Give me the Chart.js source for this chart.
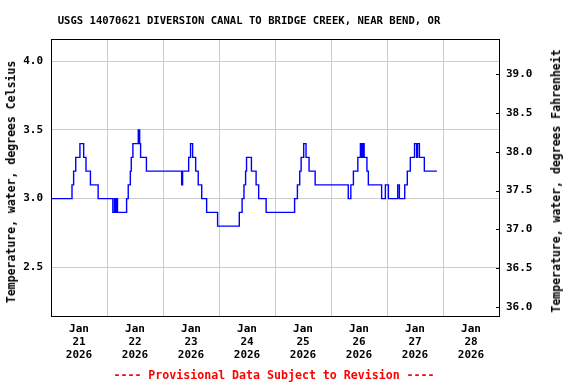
<!DOCTYPE html>
<html>
<head>
<meta charset="utf-8">
<script src="https://cdn.jsdelivr.net/npm/chart.js@4.4.1/dist/chart.umd.min.js"></script>
<style>
html, body { margin: 0; padding: 0; background: #fff; }
#wrap { position: relative; width: 576px; height: 384px; overflow: hidden; }
#wrap canvas { position: absolute; left: 0; top: 0; }
.txt { position: absolute; font-family: "DejaVu Sans Mono", monospace; font-weight: bold; white-space: nowrap; color: #000; transform: translate(-50%, -50%); }
.rot { transform: translate(-50%, -50%) rotate(-90deg); }
</style>
</head>
<body>
<div id="wrap">
  <canvas id="chart" width="576" height="384"></canvas>
  <div class="txt" style="left:249px; top:20px; font-size:10.6px;">USGS 14070621 DIVERSION CANAL TO BRIDGE CREEK, NEAR BEND, OR</div>
  <div class="txt rot" style="left:11px; top:182px; font-size:11.5px;">Temperature, water, degrees Celsius</div>
  <div class="txt rot" style="left:556px; top:181px; font-size:11.5px;">Temperature, water, degrees Fahrenheit</div>
  <div class="txt" style="left:274px; top:375px; font-size:11.6px; color:#ff0000;">---- Provisional Data Subject to Revision ----</div>
</div>
<script>
// heures depuis le 21 janv. 00:00, et température (°C) à partir de cet instant
const hours = [
  0, 9.0, 9.7, 10.6, 12.4, 14.0, 15.0, 16.9, 20.2,
  26.5, 27.2, 27.5, 28.0, 28.5, 32.4, 33.1, 34.0, 34.4, 35.1, 37.4, 38.0, 38.4, 40.9,
  56.0, 56.4, 59.0, 59.8, 60.7, 62.0, 63.1, 64.6, 66.7, 71.4,
  80.7, 81.9, 82.7, 83.4, 83.8, 85.9, 87.9, 89.0, 92.2,
  104.4, 105.6, 106.6, 107.2, 108.3, 109.3, 110.6, 113.2,
  127.4, 128.5, 129.6, 131.5, 132.6, 133.1, 133.6, 134.2, 135.4, 136.0, 141.7,
  143.3, 144.6, 148.6, 149.3, 151.6, 152.7, 154.0, 155.8, 156.7, 157.1, 157.9, 160.0, 165.4
];
const tempC = [
  3.0, 3.1, 3.2, 3.3, 3.4, 3.3, 3.2, 3.1, 3.0,
  2.9, 3.0, 2.9, 3.0, 2.9, 3.0, 3.1, 3.2, 3.3, 3.4, 3.5, 3.4, 3.3, 3.2,
  3.1, 3.2, 3.3, 3.4, 3.3, 3.2, 3.1, 3.0, 2.9, 2.8,
  2.9, 3.0, 3.1, 3.2, 3.3, 3.2, 3.1, 3.0, 2.9,
  3.0, 3.1, 3.2, 3.3, 3.4, 3.3, 3.2, 3.1,
  3.0, 3.1, 3.2, 3.3, 3.4, 3.3, 3.4, 3.3, 3.2, 3.1, 3.0,
  3.1, 3.0, 3.1, 3.0, 3.1, 3.2, 3.3, 3.4, 3.3, 3.4, 3.3, 3.2, 3.2
];

const celsiusTicks = [2.5, 3.0, 3.5, 4.0];
const fahrenheitTicks = [36.0, 36.5, 37.0, 37.5, 38.0, 38.5, 39.0];
const dayTicks = [0, 24, 48, 72, 96, 120, 144, 168, 192];
const dayLabels = [
  ['Jan', '21', '2026'], ['Jan', '22', '2026'], ['Jan', '23', '2026'], ['Jan', '24', '2026'],
  ['Jan', '25', '2026'], ['Jan', '26', '2026'], ['Jan', '27', '2026'], ['Jan', '28', '2026']
];

const tickFont = { family: '"DejaVu Sans Mono", monospace', weight: 'bold', size: 11, lineHeight: 1.18 };

// cadre noir + petites graduations intérieures à droite
const framePlugin = {
  id: 'frame',
  afterDraw(chart) {
    const ctx = chart.ctx;
    const a = chart.chartArea;
    ctx.save();
    ctx.strokeStyle = '#000';
    ctx.lineWidth = 1;
    ctx.strokeRect(a.left + 0.5, a.top + 0.5, a.right - a.left, a.bottom - a.top);
    const y1 = chart.scales.y1;
    ctx.beginPath();
    fahrenheitTicks.forEach(v => {
      const py = Math.round(y1.getPixelForValue(v)) + 0.5;
      ctx.moveTo(a.right - 3, py);
      ctx.lineTo(a.right + 1, py);
    });
    ctx.stroke();
    ctx.restore();
  }
};

new Chart(document.getElementById('chart').getContext('2d'), {
  type: 'line',
  data: {
    datasets: [{
      data: hours.map((h, i) => ({ x: h, y: tempC[i] })),
      borderColor: '#0000ff',
      borderWidth: 1.4,
      pointRadius: 0,
      stepped: true,
      fill: false,
      yAxisID: 'y'
    }]
  },
  options: {
    responsive: false,
    animation: false,
    layout: { padding: { top: 39, left: 0, right: 0, bottom: 0 } },
    plugins: {
      legend: { display: false },
      tooltip: { enabled: false }
    },
    scales: {
      x: {
        type: 'linear',
        min: 0,
        max: 192,
        afterBuildTicks: s => { s.ticks = dayTicks.map(v => ({ value: v })); },
        afterFit: s => { s.height = 68; },
        grid: { color: '#cccccc', drawTicks: false },
        border: { display: false },
        ticks: {
          autoSkip: false,
          maxRotation: 0,
          padding: 7,
          labelOffset: 28,
          color: '#000',
          font: tickFont,
          callback: (v, i) => dayLabels[i] || ''
        }
      },
      y: {
        position: 'left',
        min: 2.1454,
        max: 4.162,
        afterBuildTicks: s => { s.ticks = celsiusTicks.map(v => ({ value: v })); },
        afterFit: s => { s.width = 51; },
        grid: { color: '#cccccc', drawTicks: false },
        border: { display: false },
        ticks: { padding: 8, color: '#000', font: tickFont, callback: v => v.toFixed(1) }
      },
      y1: {
        position: 'right',
        min: 35.88,
        max: 39.458,
        afterBuildTicks: s => { s.ticks = fahrenheitTicks.map(v => ({ value: v })); },
        afterFit: s => { s.width = 77; },
        grid: { display: false, drawTicks: false },
        border: { display: false },
        ticks: { padding: 7, color: '#000', font: tickFont, callback: v => v.toFixed(1) }
      }
    }
  },
  plugins: [framePlugin]
});
</script>
</body>
</html>
